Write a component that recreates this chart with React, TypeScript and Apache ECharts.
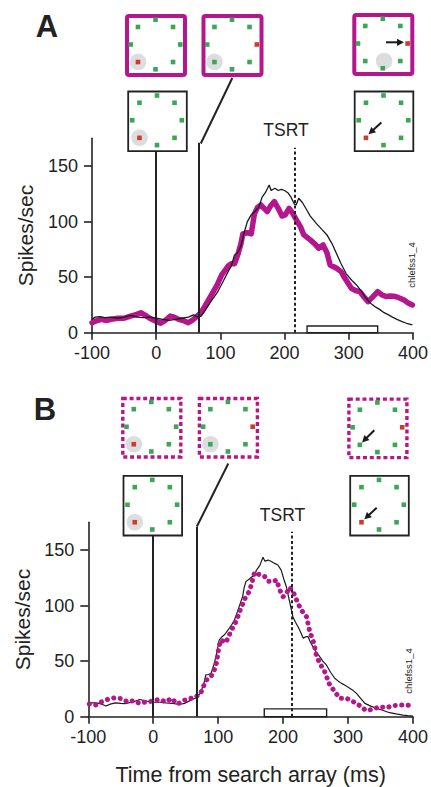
import React, { useEffect, useRef } from "react";
import * as echarts from "echarts";

// ---------- data (ms, spikes/sec) ----------
const xTicks = [-100, 0, 100, 200, 300, 400];
const yTicks = [0, 50, 100, 150];

// Panel A: thick magenta (target) and thin black (control)
const targetA: [number, number][] = [
  [-100, 9], [-92, 11], [-85, 12], [-78, 11], [-70, 12], [-60, 13], [-50, 13], [-40, 15], [-30, 16.5], [-24, 18],
  [-18, 16], [-10, 13], [-3, 11], [3, 9.5], [7, 8.5], [14, 11], [22, 15], [28, 14], [35, 12], [42, 11],
  [50, 9], [56, 11], [62, 14], [66, 16], [72, 20], [80, 28], [86, 34], [95, 43], [102, 52], [107, 56],
  [112, 60], [117, 62], [122, 62], [127, 70], [132, 80], [135, 89], [142, 90], [148, 89], [153, 107], [158, 113],
  [163, 115], [168, 112], [173, 109], [178, 114], [184, 118], [190, 112], [196, 105], [201, 106], [207, 112], [212, 108],
  [219, 101], [225, 95], [230, 88], [240, 83.5], [247, 80], [253, 76], [260, 79], [266, 72], [271, 61], [281, 58],
  [288, 55], [294, 49], [304, 40], [310, 38], [317, 37], [324, 32], [330, 28], [337, 32], [345, 37], [352, 34],
  [358, 32.5], [365, 33], [373, 32.5], [380, 31], [386, 29.5], [392, 27], [399, 25],
];
const controlA: [number, number][] = [
  [-100, 12], [-95, 14], [-88, 14.5], [-80, 13.5], [-70, 14], [-60, 13], [-50, 14], [-40, 15.5], [-30, 14], [-20, 13.5],
  [-10, 14], [0, 13], [10, 12], [20, 11], [30, 12], [40, 13], [50, 14], [58, 16], [65, 14], [70, 15],
  [75, 19], [85, 28], [95, 36], [105, 47], [112, 55], [117, 60], [122, 70], [127, 72], [132, 78], [137, 90],
  [142, 100], [148, 106], [155, 110], [160, 113], [165, 122], [170, 126], [176, 133], [179, 128], [185, 130], [190, 128],
  [195, 129], [200, 128], [205, 126], [210, 122], [215, 116], [218, 115], [222, 121], [228, 117], [235, 110], [240, 105],
  [250, 98], [258, 93], [266, 88], [274, 80], [281, 71], [288, 62], [296, 53], [305, 47], [312, 43], [320, 37],
  [327, 31], [335, 26], [342, 23], [348, 21], [355, 18], [362, 16], [368, 14], [375, 12], [383, 10], [390, 8.5],
  [399, 7],
];

// Panel B: dotted magenta (target) and thin black (control)
const targetB: [number, number][] = [
  [-98.5, 11.4], [-88, 10.5], [-79, 13.5], [-68.6, 16], [-59, 17], [-48.6, 16.3], [-39.4, 13.3], [-30, 14.5], [-21.5, 12], [-11.2, 13.3],
  [-1, 14], [9, 15.6], [19.5, 13.3], [28, 16.5], [37.5, 11.4], [46, 14.5], [55, 16.3], [64, 17.2], [73, 21], [77, 27],
  [82, 33], [88.8, 36], [94, 42], [97.5, 48.6], [101.5, 63.7], [104, 69], [112, 66.7], [117, 73.6], [122, 79.6], [128.3, 86.5],
  [132.4, 93.7], [136.5, 99.7], [141.5, 106.6], [147.7, 112.6], [151.8, 120], [156, 130], [164, 127.7], [171.8, 126], [177, 122], [184.6, 121.6],
  [189.8, 123], [195, 114], [200, 108], [205, 111], [210, 116.5], [215.4, 112.6], [223, 102], [228, 96], [236, 90], [238.5, 83.5],
  [241, 76.6], [246, 69], [249, 61.6], [251, 55.6], [256.5, 48], [264, 40.6], [271.8, 28.6], [279.5, 22.6], [287, 16.6], [297.5, 16.6],
  [307.7, 13.6], [318, 10], [328, 5.5], [338, 6.6], [348.8, 9], [359, 8], [369, 10], [379.5, 10.5], [390, 10.5], [400, 9.6],
];
const controlB: [number, number][] = [
  [-100, 12.5], [-88, 12.5], [-80, 11.5], [-73, 9.6], [-65, 11.5], [-58, 12.5], [-50, 12], [-43, 11.8], [-30, 13.5], [-21, 15.5],
  [-10, 14], [-1, 13], [10, 13], [19.5, 12.5], [30, 12], [40, 11], [48, 12], [55, 14], [62, 16], [66, 17],
  [73, 21.5], [78, 30], [81, 37.6], [85, 38], [89, 39], [94, 48], [98, 58], [101.5, 69], [106, 72], [110, 74],
  [117, 79.6], [121, 83], [125, 87], [130, 95], [134, 102], [137.6, 108], [140, 116], [142.7, 121.6], [148, 124], [152, 126],
  [156, 127], [159, 132], [164, 136], [169, 143.5], [172, 140], [177, 141], [182, 139.7], [187, 138], [192, 136.6], [197, 132],
  [201, 124], [205, 117], [210, 103.6], [215, 90], [219, 85], [223, 81], [227, 76], [231, 70.6], [235, 72], [238.5, 72],
  [242, 67], [246, 63], [251, 58], [256.5, 54], [261, 50], [266.7, 46.6], [273, 40], [279.5, 34.6], [285, 32], [290, 30],
  [296, 28], [302.5, 25.6], [308, 23.5], [313, 21], [320, 16], [326, 12], [335, 9.5], [343.6, 7.6], [352, 6], [364, 3.6],
  [374, 2.5], [384.6, 1.5], [392, 1], [400, 0.6],
];

// events: search array onset, 67 ms mark, TSRT, saccade window
const eventTimes = [0, 67];
const eventTops = [163, 171];
const tsrtA = 216;
const tsrtB = 213;
const windowA = [235, 345, 6];
const windowB = [171, 267, 7];

const MAG = "#b5168c";
const INK = "#222222";
const GREEN = "#3ba654";
const RED = "#cf3a2e";
const FONT = "'Liberation Sans', Arial, Helvetica, sans-serif";

type Arrow = [number, number, number, number] | null;

function icon(
  cx: number,
  cy: number,
  kind: "solid" | "dotted" | "black",
  red: number,
  gray: [number, number] | null,
  arrow: Arrow
): any[] {
  const els: any[] = [];
  const bx = cx + 0.5;
  const by = cy + 1;
  if (kind === "solid") {
    els.push({ type: "rect", shape: { x: bx - 29, y: by - 29.5, width: 58, height: 59, r: 2 }, style: { fill: "#fff", stroke: MAG, lineWidth: 4 } });
  } else if (kind === "dotted") {
    els.push({ type: "rect", shape: { x: bx - 29, y: by - 29.2, width: 58, height: 58.5 }, style: { fill: "#fff", stroke: MAG, lineWidth: 3.4, lineDash: [4, 2.8] } });
  } else {
    els.push({ type: "rect", shape: { x: bx - 29.3, y: by - 29.8, width: 58.6, height: 59.6 }, style: { fill: "#fff", stroke: INK, lineWidth: 1.8 } });
  }
  if (gray) {
    els.push({ type: "circle", shape: { cx: cx + gray[0], cy: cy + gray[1], r: 8.3 }, style: { fill: "#dcdddf" } });
  }
  for (let i = 0; i < 8; i++) {
    const a = (i * Math.PI) / 4;
    const px = cx + Math.sin(a) * 24.8;
    const py = cy - Math.cos(a) * 24.8;
    els.push({ type: "rect", shape: { x: px - 2.3, y: py - 2.3, width: 4.6, height: 4.6 }, style: { fill: i === red ? RED : GREEN } });
  }
  if (arrow) {
    const [x1, y1, x2, y2] = arrow;
    const dx = x2 - x1;
    const dy = y2 - y1;
    const L = Math.sqrt(dx * dx + dy * dy);
    const ux = dx / L;
    const uy = dy / L;
    const hl = 7;
    const hw = 3.6;
    const bxh = x2 - ux * hl;
    const byh = y2 - uy * hl;
    els.push({ type: "line", shape: { x1, y1, x2: bxh + ux, y2: byh + uy }, style: { stroke: "#1a1a1a", lineWidth: 2 } });
    els.push({
      type: "polygon",
      shape: { points: [[x2, y2], [bxh - uy * hw, byh + ux * hw], [bxh + uy * hw, byh - ux * hw]] },
      style: { fill: "#1a1a1a" },
    });
  }
  return els;
}

const axisTextStyle = { color: INK, fontSize: 18, fontFamily: FONT };

function xAxisCfg(gridIndex: number, withName: boolean) {
  return {
    type: "value",
    gridIndex,
    min: -100,
    max: 400,
    interval: 100,
    axisLine: { show: true, onZero: false, lineStyle: { color: INK, width: 1.6 } },
    axisTick: { show: true, length: 7, lineStyle: { color: INK, width: 1.6 }, customValues: xTicks },
    axisLabel: { ...axisTextStyle, margin: 11, customValues: xTicks },
    splitLine: { show: false },
    name: withName ? "Time from search array (ms)" : "",
    nameLocation: "middle",
    nameGap: 47,
    nameTextStyle: { color: INK, fontSize: 21.5, fontFamily: FONT },
  };
}

function yAxisCfg(gridIndex: number, gap: number) {
  return {
    type: "value",
    gridIndex,
    min: 0,
    max: 175,
    interval: 50,
    axisLine: { show: true, onZero: false, lineStyle: { color: INK, width: 1.6 } },
    axisTick: { show: true, length: 8, lineStyle: { color: INK, width: 1.6 }, customValues: yTicks },
    axisLabel: { ...axisTextStyle, margin: 14, customValues: yTicks },
    splitLine: { show: false },
    name: "Spikes/sec",
    nameLocation: "middle",
    nameGap: gap,
    nameRotate: 90,
    nameTextStyle: { color: INK, fontSize: 21, fontFamily: FONT },
  };
}

function markers(tsrt: number, win: number[]) {
  const solid = { color: INK, width: 2, type: "solid" };
  return {
    markLine: {
      silent: true,
      symbol: ["none", "none"],
      label: { show: false },
      animation: false,
      data: [
        [{ coord: [eventTimes[0], 0], lineStyle: solid }, { coord: [eventTimes[0], eventTops[0]] }],
        [{ coord: [eventTimes[1], 0], lineStyle: solid }, { coord: [eventTimes[1], eventTops[1]] }],
        [{ coord: [tsrt, 0], lineStyle: { color: INK, width: 2, type: [3, 2.4] } }, { coord: [tsrt, 166.5] }],
      ],
    },
    markArea: {
      silent: true,
      itemStyle: { color: "#ffffff", borderColor: INK, borderWidth: 1.4 },
      data: [[{ coord: [win[0], 0] }, { coord: [win[1], win[2]] }]],
    },
  };
}

export default function App() {
  const ref = useRef<HTMLDivElement>(null);
  useEffect(() => {
    if (!ref.current) return;
    const chart = echarts.init(ref.current, undefined, { renderer: "svg" });

    const text = (t: string, x: number, y: number, size: number, bold = false, rotation = 0) => ({
      type: "text",
      x,
      y,
      rotation,
      z: 20,
      style: {
        text: t,
        fill: INK,
        fontSize: size,
        fontWeight: bold ? "bold" : "normal",
        fontFamily: FONT,
        align: "center",
        verticalAlign: "middle",
        textAlign: "center",
        textVerticalAlign: "middle",
      },
    });

    const graphics: any[] = [
      text("A", 47, 26, 31, true),
      text("B", 45, 409, 31, true),
      text("TSRT", 286, 130, 17.5),
      text("TSRT", 282.5, 515, 17.5),
      text("chlefss1_4", 411.5, 265, 9.5, false, Math.PI / 2),
      text("chlefss1_4", 408.5, 671, 9.5, false, Math.PI / 2),
      { type: "line", shape: { x1: 200.8, y1: 143.5, x2: 232.3, y2: 78 }, style: { stroke: INK, lineWidth: 2 } },
      { type: "line", shape: { x1: 196.9, y1: 526.5, x2: 228.3, y2: 463.5 }, style: { stroke: INK, lineWidth: 2 } },
      ...icon(155.5, 44.5, "solid", 5, [-17.5, 17.5], null),
      ...icon(232, 44.5, "solid", 2, [-17.5, 17.5], null),
      ...icon(382.8, 43.5, "solid", 2, [1.3, 17.5], [386, 42.3, 404, 42.3]),
      ...icon(157, 120.3, "black", 5, [-17.5, 17.5], null),
      ...icon(383.5, 120.3, "black", 5, null, [381.3, 122.5, 368.5, 134.3]),
      ...icon(151.3, 426.7, "dotted", 5, [-17.5, 17.5], null),
      ...icon(227.9, 426.7, "dotted", 2, [-17.5, 17.5], null),
      ...icon(377.4, 427.3, "dotted", 2, null, [374.3, 430.2, 362, 442.5]),
      ...icon(152.3, 504.7, "black", 5, [-17.5, 17.5], null),
      ...icon(379, 504.7, "black", 5, null, [376.7, 507.7, 364.3, 519.3]),
    ];

    chart.setOption({
      animation: false,
      backgroundColor: "#ffffff",
      textStyle: { fontFamily: FONT },
      grid: [
        { left: 92, top: 138.3, width: 325, height: 194.4 },
        { left: 88.3, top: 522.3, width: 325, height: 194.4 },
      ],
      xAxis: [xAxisCfg(0, false), xAxisCfg(1, true)],
      yAxis: [yAxisCfg(0, 56), yAxisCfg(1, 52)],
      series: [
        {
          type: "line",
          xAxisIndex: 0,
          yAxisIndex: 0,
          data: targetA,
          symbol: "none",
          silent: true,
          z: 2,
          lineStyle: { color: MAG, width: 5.5, join: "round", cap: "round" },
          ...markers(tsrtA, windowA),
        },
        {
          type: "line",
          xAxisIndex: 0,
          yAxisIndex: 0,
          data: controlA,
          symbol: "none",
          silent: true,
          z: 3,
          lineStyle: { color: "#1a1a1a", width: 1.3 },
        },
        {
          type: "line",
          xAxisIndex: 1,
          yAxisIndex: 1,
          data: controlB,
          symbol: "none",
          silent: true,
          z: 2,
          lineStyle: { color: "#1a1a1a", width: 1.2 },
          ...markers(tsrtB, windowB),
        },
        {
          type: "line",
          xAxisIndex: 1,
          yAxisIndex: 1,
          data: targetB,
          symbol: "none",
          silent: true,
          z: 3,
          lineStyle: { color: MAG, width: 5, type: [0.1, 6.4], cap: "round", join: "round" },
        },
      ],
      graphic: graphics,
    });
    return () => chart.dispose();
  }, []);
  return <div ref={ref} style={{ position: "absolute", left: 0, top: 0, width: 431, height: 787, background: "#fff" }} />;
}
